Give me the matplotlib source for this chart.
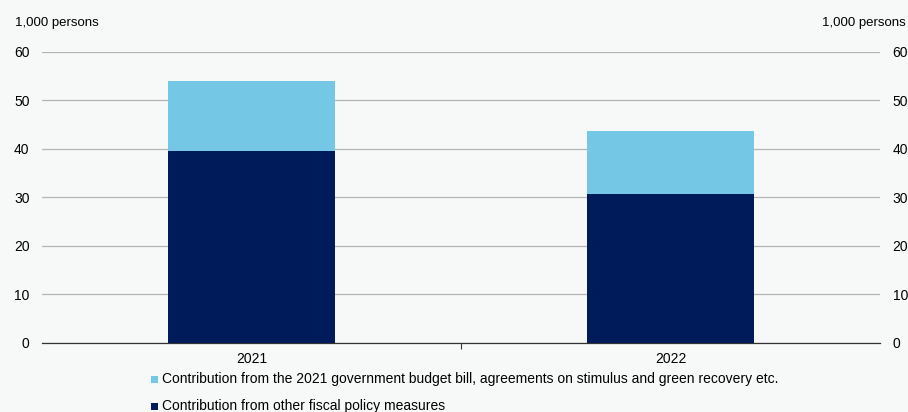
import matplotlib
matplotlib.use("Agg")
import matplotlib.pyplot as plt
from matplotlib.patches import Rectangle

plt.rcParams['font.family'] = ['Liberation Sans', 'DejaVu Sans']

years = ['2021', '2022']
other_measures = [39.5, 30.8]
budget_bill = [14.5, 13.0]
lbl_budget = 'Contribution from the 2021 government budget bill, agreements on stimulus and green recovery etc.'
lbl_other = 'Contribution from other fiscal policy measures'

bg = '#f7f9f9'
dark = '#001b5a'
light = '#74c8e6'

fig = plt.figure(figsize=(9.08, 4.12), dpi=100, facecolor=bg)
ax = fig.add_axes([0.0463, 0.1675, 0.9229, 0.7063], facecolor=bg)

x = range(len(years))
ax.bar(x, other_measures, width=0.4, color=dark, zorder=3)
ax.bar(x, budget_bill, width=0.4, bottom=other_measures, color=light, zorder=3)

ax.set_xlim(-0.5, 1.5)
ax.set_ylim(0, 60)
ax.set_yticks(range(0, 61, 10))
ax.yaxis.grid(True, color='#b4b4b4', linewidth=0.9, zorder=0)
ax.tick_params(axis='y', length=0, labelsize=10, pad=9, right=True, labelright=True)
ax.set_xticks([0.5])
ax.set_xticklabels([''])
ax.tick_params(axis='x', length=4, width=0.8, color='#333333')
for i, yr in enumerate(years):
    ax.text(i, -3.3, yr, ha='center', va='center', fontsize=10)
for s in ['top', 'left', 'right']:
    ax.spines[s].set_visible(False)
ax.spines['bottom'].set_color('#333333')
ax.spines['bottom'].set_linewidth(0.9)

fig.text(0.0165, 0.945, '1,000 persons', fontsize=9.5, ha='left', va='center')
fig.text(0.998, 0.945, '1,000 persons', fontsize=9.5, ha='right', va='center')

# legend below
for yy, col, lab in [(0.080, light, lbl_budget), (0.015, dark, lbl_other)]:
    fig.patches.append(Rectangle((0.1665, yy - 0.010), 0.0075, 0.0165, transform=fig.transFigure,
                                 facecolor=col, edgecolor='none'))
    fig.text(0.178, yy, lab, fontsize=10, ha='left', va='center')

fig.savefig('out.png', dpi=100, facecolor=bg)
